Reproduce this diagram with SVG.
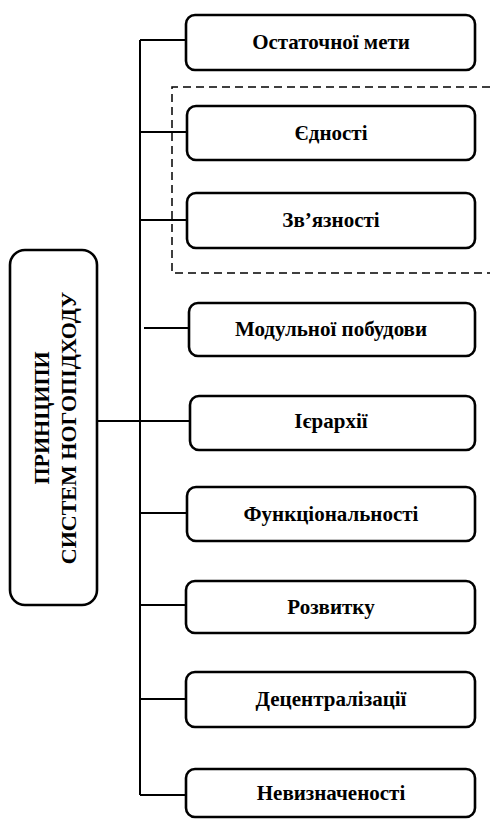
<svg xmlns="http://www.w3.org/2000/svg" width="490" height="819" viewBox="0 0 490 819">
  <style>
    .box { fill: #ffffff; stroke: #000000; stroke-width: 2.6; }
    .lbl { font-family: "Liberation Serif", "Times New Roman", serif; font-weight: bold; font-size: 21px; fill: #000000; text-anchor: middle; }
    .main { font-family: "Liberation Serif", "Times New Roman", serif; font-weight: bold; font-size: 22px; fill: #000000; text-anchor: middle; }
    .wire { fill: none; stroke: #000000; stroke-width: 2; }
    .group { fill: none; stroke: #000000; stroke-width: 1.5; stroke-dasharray: 8 5; }
  </style>
  <rect width="490" height="819" fill="#ffffff"/>

  <!-- dashed grouping frame -->
  <path class="group" d="M 490 87 H 172 V 273 H 490"/>

  <!-- connectors -->
  <g id="connectors">
    <path class="wire" d="M 140 40 V 795"/>
    <path class="wire" d="M 97 421 H 190"/>
    <path class="wire" d="M 140 40 H 187"/>
    <path class="wire" d="M 140 132 H 187"/>
    <path class="wire" d="M 140 220 H 187"/>
    <path class="wire" d="M 144 328 H 189"/>
    <path class="wire" d="M 140 513 H 187"/>
    <path class="wire" d="M 140 605 H 186"/>
    <path class="wire" d="M 140 699 H 186"/>
    <path class="wire" d="M 140 795 H 186"/>
  </g>

  <g id="root">
    <rect class="box" x="10" y="250" width="87" height="355" rx="15"/>
    <text class="main" transform="translate(49 418) rotate(-90)">ПРИНЦИПИ</text>
    <text class="main" transform="translate(75.5 428) rotate(-90)">СИСТЕМ НОГОПІДХОДУ</text>
  </g>

  <g id="n1">
    <rect class="box" x="186" y="15" width="289" height="55" rx="9"/>
    <text class="lbl" x="331" y="49">Остаточної мети</text>
  </g>
  <g id="n2">
    <rect class="box" x="187" y="106" width="288" height="54" rx="9"/>
    <text class="lbl" x="331" y="139.5">Єдності</text>
  </g>
  <g id="n3">
    <rect class="box" x="187" y="193" width="288" height="55" rx="9"/>
    <text class="lbl" x="331" y="227">Зв’язності</text>
  </g>
  <g id="n4">
    <rect class="box" x="189" y="303" width="286" height="53" rx="9"/>
    <text class="lbl" x="331" y="336">Модульної побудови</text>
  </g>
  <g id="n5">
    <rect class="box" x="190" y="396" width="285" height="54" rx="9"/>
    <text class="lbl" x="331" y="428">Ієрархії</text>
  </g>
  <g id="n6">
    <rect class="box" x="187" y="487" width="288" height="54" rx="9"/>
    <text class="lbl" x="331" y="520.5">Функціональності</text>
  </g>
  <g id="n7">
    <rect class="box" x="186" y="581" width="289" height="52" rx="9"/>
    <text class="lbl" x="331" y="613.5">Розвитку</text>
  </g>
  <g id="n8">
    <rect class="box" x="186" y="672" width="289" height="55" rx="9"/>
    <text class="lbl" x="331" y="706">Децентралізації</text>
  </g>
  <g id="n9">
    <rect class="box" x="186" y="769" width="289" height="48" rx="9"/>
    <text class="lbl" x="331" y="800">Невизначеності</text>
  </g>
</svg>
